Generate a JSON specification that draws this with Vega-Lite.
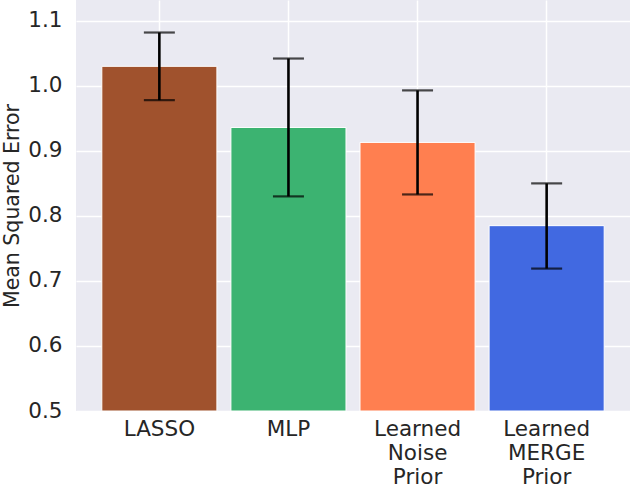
{
  "$schema": "https://vega.github.io/schema/vega-lite/v6.json",
  "autosize": {"type": "none"},
  "width": 554,
  "height": 411,
  "padding": {"left": 76, "top": 0, "right": 0, "bottom": 77},
  "background": "white",
  "config": {
    "view": {"fill": "#EAEAF2", "stroke": null},
    "font": "DejaVu Sans",
    "axis": {
      "gridColor": "white",
      "gridWidth": 1.5,
      "gridOpacity": 1,
      "domain": false,
      "ticks": false,
      "labelColor": "#262626",
      "titleColor": "#262626",
      "labelFontSize": 21.5,
      "titleFontSize": 20.5,
      "titleFontWeight": "normal",
      "labelFont": "DejaVu Sans",
      "titleFont": "DejaVu Sans"
    }
  },
  "data": {
    "values": [
      {"model": "LASSO", "mse": 1.030, "lo": 0.978, "hi": 1.082},
      {"model": "MLP", "mse": 0.936, "lo": 0.830, "hi": 1.042},
      {"model": "Learned Noise Prior", "mse": 0.913, "lo": 0.833, "hi": 0.993},
      {"model": "Learned MERGE Prior", "mse": 0.785, "lo": 0.719, "hi": 0.850}
    ]
  },
  "encoding": {
    "x": {
      "field": "model",
      "type": "nominal",
      "sort": null,
      "scale": {"paddingInner": 0.1085, "paddingOuter": 0.2},
      "axis": {
        "title": null,
        "labelAngle": 0,
        "grid": true,
        "bandPosition": 0.5,
        "labelPadding": 7,
        "labelBaseline": "top",
        "labelLineHeight": 24,
        "labelExpr": "split(datum.label, ' ')"
      }
    }
  },
  "layer": [
    {
      "mark": {"type": "bar", "stroke": "white", "strokeWidth": 1},
      "encoding": {
        "y": {
          "field": "mse",
          "type": "quantitative",
          "scale": {"domain": [0.5, 1.132], "nice": false, "zero": false},
          "axis": {
            "title": "Mean Squared Error",
            "values": [0.5, 0.6, 0.7, 0.8, 0.9, 1.0, 1.1],
            "format": ".1f",
            "labelPadding": 14,
            "titlePadding": 5,
            "grid": true
          }
        },
        "y2": {"datum": 0.5},
        "color": {
          "field": "model",
          "type": "nominal",
          "legend": null,
          "scale": {
            "domain": ["LASSO", "MLP", "Learned Noise Prior", "Learned MERGE Prior"],
            "range": ["#A0522D", "#3CB371", "#FF7F50", "#4169E1"]
          }
        }
      }
    },
    {
      "mark": {"type": "rule", "color": "black", "strokeWidth": 2.6},
      "encoding": {
        "y": {"field": "lo", "type": "quantitative"},
        "y2": {"field": "hi"}
      }
    },
    {
      "mark": {"type": "tick", "color": "black", "thickness": 2.2, "size": 31, "orient": "horizontal"},
      "encoding": {"y": {"field": "lo", "type": "quantitative"}}
    },
    {
      "mark": {"type": "tick", "color": "black", "thickness": 2.2, "size": 31, "orient": "horizontal"},
      "encoding": {"y": {"field": "hi", "type": "quantitative"}}
    }
  ]
}
